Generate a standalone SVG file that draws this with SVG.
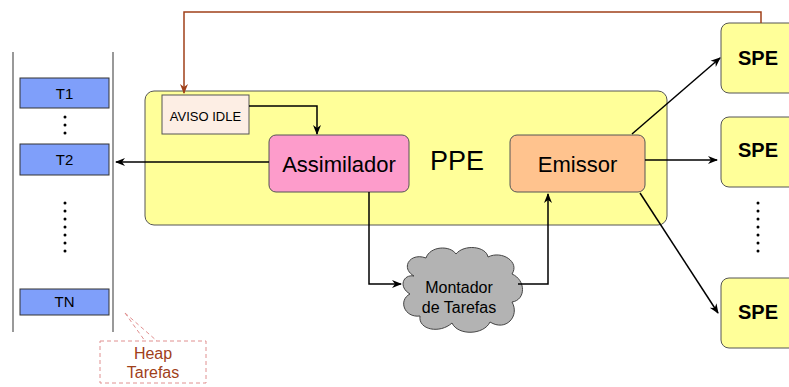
<svg xmlns="http://www.w3.org/2000/svg" width="789" height="387" viewBox="0 0 789 387">
<defs>
<style>
text{font-family:"Liberation Sans",Arial,sans-serif;fill:#000;text-anchor:middle}
.task rect{fill:#7f9ffa;stroke:#333;stroke-width:1}
.task text{font-size:15px}
.spe rect{fill:#ffff99;stroke:#555;stroke-width:1}
.spe text{font-size:20px;font-weight:bold}
.conn{fill:none;stroke:#000;stroke-width:1.5}
.dot{fill:#000}
</style>
<marker id="ah" viewBox="0 0 10 10" refX="9" refY="5" markerWidth="10" markerHeight="10" markerUnits="userSpaceOnUse" orient="auto">
<path d="M0,1 L10,5 L0,9 L3,5 Z" fill="#000"/>
</marker>
<marker id="ahb" viewBox="0 0 10 10" refX="9" refY="5" markerWidth="10" markerHeight="10" markerUnits="userSpaceOnUse" orient="auto">
<path d="M0,1 L10,5 L0,9 L3,5 Z" fill="#a0401a"/>
</marker>
</defs>

<g id="heap">
<line x1="13" y1="52" x2="13" y2="332" stroke="#555" stroke-width="1.2"/>
<line x1="113" y1="52" x2="113" y2="332" stroke="#555" stroke-width="1.2"/>
</g>
<g id="t1" class="task"><rect x="20" y="78" width="89" height="30"/><text x="64.5" y="99">T1</text></g>
<g id="dots1">
<circle class="dot" cx="65" cy="117" r="1.5"/><circle class="dot" cx="65" cy="125" r="1.5"/><circle class="dot" cx="65" cy="133" r="1.5"/>
</g>
<g id="t2" class="task"><rect x="20" y="144" width="89" height="31"/><text x="64.5" y="165">T2</text></g>
<g id="dots2">
<circle class="dot" cx="65" cy="203" r="1.5"/><circle class="dot" cx="65" cy="211" r="1.5"/><circle class="dot" cx="65" cy="219" r="1.5"/><circle class="dot" cx="65" cy="227" r="1.5"/><circle class="dot" cx="65" cy="235" r="1.5"/><circle class="dot" cx="65" cy="243" r="1.5"/><circle class="dot" cx="65" cy="251" r="1.5"/>
</g>
<g id="tn" class="task"><rect x="20" y="289" width="89" height="26"/><text x="64.5" y="307">TN</text></g>

<g id="heap-label">
<path d="M125,313 L145,341 M125,313 L157,341" fill="none" stroke="#e09090" stroke-width="1" stroke-dasharray="4,3"/>
<rect x="100" y="341" width="106" height="42" fill="#fff" stroke="#e09090" stroke-width="1" stroke-dasharray="4,3"/>
<text x="153" y="359" style="font-size:16px;fill:#a0401a">Heap</text>
<text x="153" y="378" style="font-size:16px;fill:#a0401a">Tarefas</text>
</g>

<g id="ppe">
<rect x="145" y="91" width="522" height="134" rx="9" fill="#ffff99" stroke="#555" stroke-width="1"/>
<text x="457" y="170" style="font-size:27px">PPE</text>
</g>
<g id="aviso">
<rect x="162" y="95" width="87" height="39" fill="#fdeee4" stroke="#555" stroke-width="1"/>
<text x="205.5" y="121" style="font-size:13px">AVISO IDLE</text>
</g>
<g id="assimilador">
<rect x="269" y="135" width="140" height="57" rx="7" fill="#fd9ccb" stroke="#555" stroke-width="1"/>
<text x="339" y="172" style="font-size:22px">Assimilador</text>
</g>
<g id="emissor">
<rect x="510" y="135" width="135" height="57" rx="7" fill="#ffc38e" stroke="#555" stroke-width="1"/>
<text x="577.5" y="172" style="font-size:22px">Emissor</text>
</g>
<g id="montador">
<path d="M414,276 C400,268 410,252 426,258 C430,246 450,245 456,254 C464,244 486,246 488,257 C502,250 520,262 512,274 C526,280 526,300 512,302 C520,316 506,332 490,322 C484,335 458,336 452,323 C440,334 418,330 420,316 C404,318 398,300 410,294 C398,287 403,274 414,276 Z" fill="#b3b3b3" stroke="#444" stroke-width="1"/>
<text x="459" y="293" style="font-size:16px">Montador</text>
<text x="459" y="313" style="font-size:16px">de Tarefas</text>
</g>
<g id="spe1" class="spe"><rect x="721" y="23" width="90" height="70" rx="8"/><text x="758" y="65">SPE</text></g>
<g id="spe2" class="spe"><rect x="721" y="117" width="90" height="70" rx="8"/><text x="758" y="157">SPE</text></g>
<g id="dots3">
<circle class="dot" cx="758" cy="203" r="1.5"/><circle class="dot" cx="758" cy="211" r="1.5"/><circle class="dot" cx="758" cy="219" r="1.5"/><circle class="dot" cx="758" cy="227" r="1.5"/><circle class="dot" cx="758" cy="235" r="1.5"/><circle class="dot" cx="758" cy="243" r="1.5"/><circle class="dot" cx="758" cy="251" r="1.5"/>
</g>
<g id="spe3" class="spe"><rect x="721" y="278" width="90" height="70" rx="8"/><text x="758" y="319">SPE</text></g>

<g id="connectors">
<path class="conn" d="M761,23 V12 H184 V93" style="stroke:#a0401a" marker-end="url(#ahb)"/>
<path class="conn" d="M249,106 H317 V134" marker-end="url(#ah)"/>
<path class="conn" d="M269,162 H116" marker-end="url(#ah)"/>
<path class="conn" d="M369,192 V284 H401" marker-end="url(#ah)"/>
<path class="conn" d="M518,284 H548 V194" marker-end="url(#ah)"/>
<path class="conn" d="M632,134 L720,58" marker-end="url(#ah)"/>
<path class="conn" d="M645,160 L717,160" marker-end="url(#ah)"/>
<path class="conn" d="M640,193 L718,313" marker-end="url(#ah)"/>
</g>
</svg>
